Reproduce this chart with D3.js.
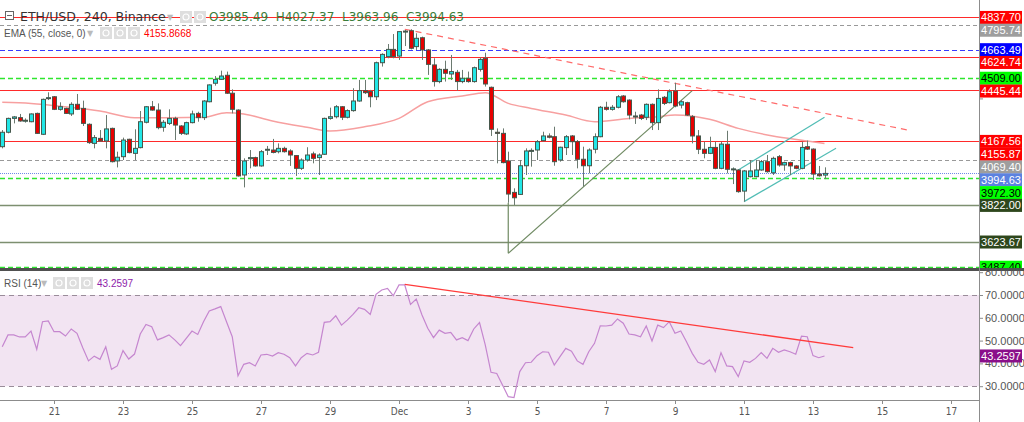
<!DOCTYPE html>
<html>
<head>
<meta charset="utf-8">
<script src="https://cdn.jsdelivr.net/npm/d3@7"></script>
<style>
  body { margin: 0; background: #fff; }
  svg { display: block; font-family: "DejaVu Sans", sans-serif; }
</style>
</head>
<body>
<svg id="chart" width="1024" height="422"></svg>
<script>
// ---- data (4h bars, ETH/USD Binance) ----
const firstBar = "2021-11-19T12:00:00Z";
const barHours = 4;

const opens = [4139,4217,4292,4296,4278,4274,4319,4206,4399,4409,4341,4346,4316,4368,4346,4260,4157,4184,4170,4238,
  4062,4085,4179,4103,4134,4271,4355,4337,4244,4265,4292,4251,4208,4269,4319,4296,4382,4482,4503,4525,
  4428,4337,3986,4074,4080,4035,4121,4121,4112,4130,4116,4091,4022,4067,4100,4080,4098,4292,4301,4355,
  4298,4334,4386,4442,4437,4409,4593,4626,4665,4629,4761,4766,4680,4728,4662,4581,4491,4557,4532,4541,
  4491,4509,4491,4557,4617,4460,4217,4211,4062,3892,3881,4036,4116,4121,4172,4197,4193,4067,4134,4197,
  4166,4071,4036,4125,4193,4352,4341,4352,4413,4391,4305,4310,4298,4368,4269,4406,4377,4440,4364,4377,
  4301,4197,4125,4103,4135,4022,4152,4017,4013,3899,3977,3977,4013,4058,3998,4085,4040,4053,4035,4022,
  4139,4126,3991,3985.49];
const highs = [4229,4296,4305,4316,4292,4319,4323,4399,4433,4413,4379,4350,4379,4424,4388,4265,4202,4229,4310,4242,
  4112,4188,4182,4233,4332,4359,4386,4373,4283,4341,4301,4256,4274,4334,4328,4391,4476,4521,4550,4545,
  4449,4341,4076,4121,4085,4121,4143,4181,4157,4139,4125,4094,4076,4136,4112,4103,4296,4350,4364,4359,
  4341,4455,4500,4500,4446,4599,4644,4694,4748,4761,4770,4774,4752,4734,4667,4617,4563,4604,4635,4554,
  4554,4545,4572,4622,4647,4464,4238,4238,4112,3914,4067,4130,4130,4175,4220,4211,4247,4139,4202,4202,
  4175,4139,4130,4211,4359,4382,4364,4418,4418,4395,4328,4316,4373,4373,4449,4413,4449,4485,4391,4382,
  4310,4229,4166,4193,4166,4166,4225,4027,4017,4013,4067,4067,4067,4094,4085,4094,4058,4058,4040,4166,
  4172,4130,4035,4027.37];
const lows = [4130,4211,4265,4274,4269,4271,4208,4202,4391,4337,4334,4316,4305,4337,4251,4154,4130,4166,4130,4054,
  4027,4067,4103,4067,4130,4265,4334,4233,4220,4256,4175,4202,4202,4265,4274,4283,4379,4469,4500,4424,
  4319,3977,3919,4022,4031,4031,4094,4103,4103,4107,4035,3981,4013,4058,4049,3986,4094,4285,4292,4283,
  4292,4328,4382,4424,4352,4391,4572,4617,4617,4608,4683,4665,4662,4608,4527,4464,4482,4491,4500,4442,
  4482,4485,4485,4545,4464,4197,4049,4049,3836,3824,3878,3986,4031,4067,4166,4184,4036,4058,4094,4094,
  4022,3923,3995,4103,4190,4334,4334,4346,4377,4287,4262,4283,4283,4229,4229,4364,4373,4352,4346,4305,
  4157,4099,4076,4099,4017,4017,3995,3937,3890,3842,3973,3973,4009,3998,3986,4031,4009,3986,4017,4017,
  4121,3959,3977,3963.96];
const closes = [4217,4292,4300,4278,4282,4316,4211,4395,4404,4341,4355,4319,4368,4341,4265,4161,4188,4170,4235,4058,
  4082,4175,4107,4130,4274,4355,4337,4242,4271,4292,4256,4211,4269,4316,4296,4386,4473,4503,4521,4428,
  4341,3981,4062,4080,4035,4112,4125,4108,4130,4112,4094,4022,4067,4094,4076,4094,4292,4301,4355,4298,
  4334,4386,4442,4431,4409,4593,4638,4665,4626,4761,4764,4671,4725,4662,4584,4491,4557,4536,4545,4491,
  4509,4491,4566,4611,4478,4233,4211,4053,3883,3863,4036,4116,4119,4166,4197,4190,4058,4136,4193,4166,
  4071,4036,4121,4193,4352,4341,4352,4409,4382,4310,4303,4292,4368,4269,4400,4373,4436,4359,4382,4310,
  4197,4125,4103,4135,4022,4153,4017,4019,3896,4008,4008,4013,4058,4004,4076,4040,4053,4035,4022,4135,
  4126,3991,3982,3994.63];

// EMA(55) readings: bar number (1-based) and value
const emaBars = [1,6,12,18,24,30,36,40,43,48,54,58,64,70,75,81,85,89,93,99,104,110,115,118,124,129,135,141,144];
const emaValues = [4379,4373,4355,4332,4296,4296,4298,4323,4316,4278,4244,4224,4247,4292,4382,4413,4431,4373,4346,4310,
  4274,4292,4301,4310,4287,4238,4197,4170,4155.87];

// RSI(14), one value per bar
const rsiValues = [47.3,52.5,52.5,51.6,51.6,54.2,46.2,58.3,58.6,53.9,53.9,52.0,55.1,53.2,46.9,41.1,43.2,41.8,47.3,37.4,
  38.9,45.6,41.9,44.1,52.9,57.1,56.1,50.3,51.3,52.5,50.3,47.8,51.0,54.2,52.7,58.3,63.0,63.9,64.9,58.3,
  51.7,34.6,39.6,40.3,38.9,43.7,44.0,43.2,44.7,44.0,42.5,38.9,42.5,44.4,43.7,44.9,58.0,58.3,60.9,56.8,
  59.0,61.5,64.4,63.7,61.5,70.3,72.2,72.9,69.7,74.4,74.4,65.9,68.2,61.2,55.4,51.3,54.6,53.2,53.6,50.3,
  51.3,50.0,55.1,57.9,48.1,36.1,35.6,30.5,25.4,25.0,36.4,40.3,40.5,43.4,45.1,44.9,39.3,43.0,46.6,45.4,
  41.1,39.6,45.1,48.8,56.5,56.4,56.8,59.5,57.6,52.9,52.5,51.7,56.4,49.8,56.8,55.7,58.3,53.2,54.2,49.5,
  44.4,40.5,39.6,41.5,36.4,44.7,38.9,38.6,34.2,41.1,40.5,42.2,44.7,42.2,46.6,44.9,45.9,45.1,44.0,52.0,
  51.7,43.4,42.5,43.2597];

// horizontal levels drawn on the price pane
const levelValues = [4837.70,4795.74,4663.49,4624.74,4509.00,4445.44,4167.56,4069.40,3994.63,3972.30,3822.00,3623.67,3487.40];
const levelKinds  = ["red","gray","blue","red","green","red","red","gray","last","green","olive","olive","green"];

// drawn trend lines
const trendKinds = ["redDash","olive","olive","teal","teal"];
const trendFrom = ["2021-12-01T04:00:00Z","2021-12-04T04:00:00Z","2021-12-04T04:00:00Z","2021-12-10T20:00:00Z","2021-12-11T00:00:00Z"];
const trendFromPrice = [4774,3562.7,3836,4013,3842];
const trendTo = ["2021-12-15T18:00:00Z","2021-12-09T12:00:00Z","2021-12-04T04:00:00Z","2021-12-13T08:00:00Z","2021-12-13T16:00:00Z"];
const trendToPrice = [4229,4442,3562.7,4298,4130];

const rsiTrendDates = ["2021-12-01T04:00:00Z","2021-12-14T04:00:00Z"];
const rsiTrendValues = [74.7,46.9];

const tickDates = ["2021-11-21","2021-11-23","2021-11-25","2021-11-27","2021-11-29","2021-12-01","2021-12-03",
  "2021-12-05","2021-12-07","2021-12-09","2021-12-11","2021-12-13","2021-12-15","2021-12-17"];
const tickLabels = ["21","23","25","27","29","Dec","3","5","7","9","11","13","15","17"];

const priceTicks = [3600,3800,4000,4200,4400,4600,4800];
const rsiTicks = [30,40,50,60,70,80];

// ---- layout ----
const plotRight = 979;
const priceTop = 0, priceBottom = 268;
const rsiTop = 271, rsiBottom = 400;
const dayPx = 34.5, dec1X = 399;

const svg = d3.select("#chart");
const dec1 = Date.UTC(2021, 11, 1);
const xScale = d3.scaleUtc()
  .domain([new Date(dec1 - dec1X / dayPx * 864e5), new Date(dec1 + (plotRight - dec1X) / dayPx * 864e5)])
  .range([0, plotRight]);
const yPrice = d3.scaleLinear().domain([3483.2, 4932.0]).range([priceBottom, priceTop]);
const yRsi = d3.scaleLinear().domain([30, 70]).range([386.2, 295]);

const barDate = i => d3.utcHour.offset(new Date(firstBar), i * barHours);
const bars = opens.map((o, i) => ({
  date: barDate(i), open: o, high: highs[i], low: lows[i], close: closes[i], rsi: rsiValues[i]
}));

const defs = svg.append("defs");
defs.append("clipPath").attr("id", "clipPrice")
  .append("rect").attr("x", 0).attr("y", priceTop).attr("width", plotRight).attr("height", priceBottom - priceTop);
defs.append("clipPath").attr("id", "clipPriceAxis")
  .append("rect").attr("x", 0).attr("y", priceTop).attr("width", 1024).attr("height", priceBottom - priceTop);
defs.append("clipPath").attr("id", "clipRsi")
  .append("rect").attr("x", 0).attr("y", rsiTop).attr("width", plotRight).attr("height", rsiBottom - rsiTop);

// ---- price pane ----
const pricePane = svg.append("g").attr("clip-path", "url(#clipPrice)");

const levelStyle = {
  red:   {stroke: "#ff2a2a", dash: null,  width: 1,   bg: "#ff0000", fg: "#fff"},
  gray:  {stroke: "#999",    dash: "4,3", width: 1,   bg: "#9e9e9e", fg: "#fff"},
  blue:  {stroke: "#3a3aff", dash: "5,3", width: 1,   bg: "#0000ff", fg: "#fff"},
  green: {stroke: "#2ee62e", dash: "5,3", width: 1.5, bg: "#00ff00", fg: "#000"},
  last:  {stroke: "#7088e8", dash: "1,1", width: 1,   bg: "#5b82e0", fg: "#fff"},
  olive: {stroke: "#7d8f70", dash: null,  width: 1.5, bg: "#2e471c", fg: "#fff"},
  ema:   {bg: "#ff0000", fg: "#fff"}
};

pricePane.selectAll(".level")
  .data(levelValues.map((v, i) => ({value: v, kind: levelKinds[i]})))
  .join("line")
    .attr("class", "level")
    .attr("x1", 0).attr("x2", plotRight)
    .attr("y1", d => Math.round(yPrice(d.value)) + 0.5)
    .attr("y2", d => Math.round(yPrice(d.value)) + 0.5)
    .attr("stroke", d => levelStyle[d.kind].stroke)
    .attr("stroke-width", d => levelStyle[d.kind].width)
    .attr("stroke-dasharray", d => levelStyle[d.kind].dash);

// EMA line
const emaLine = d3.line()
  .x(d => xScale(barDate(d.bar - 1)))
  .y(d => yPrice(d.value))
  .curve(d3.curveMonotoneX);
pricePane.append("path")
  .attr("d", emaLine(emaBars.map((b, i) => ({bar: b, value: emaValues[i]}))))
  .attr("fill", "none")
  .attr("stroke", "#f7a0a0")
  .attr("stroke-width", 1.5);

// trend lines
const trendStyle = {
  redDash: {stroke: "#ff6b6b", dash: "6,5"},
  olive:   {stroke: "#6f8a62", dash: null},
  teal:    {stroke: "#52bdb5", dash: null}
};
pricePane.selectAll(".trend")
  .data(trendKinds.map((k, i) => ({kind: k, d0: new Date(trendFrom[i]), p0: trendFromPrice[i], d1: new Date(trendTo[i]), p1: trendToPrice[i]})))
  .join("line")
    .attr("class", "trend")
    .attr("x1", d => xScale(d.d0)).attr("y1", d => yPrice(d.p0))
    .attr("x2", d => xScale(d.d1)).attr("y2", d => yPrice(d.p1))
    .attr("stroke", d => trendStyle[d.kind].stroke)
    .attr("stroke-width", 1.2)
    .attr("stroke-dasharray", d => trendStyle[d.kind].dash);

// candles
const candle = pricePane.append("g").selectAll(".candle")
  .data(bars)
  .join("g")
    .attr("class", "candle")
    .attr("transform", d => `translate(${Math.round(xScale(d.date))}, 0)`);
candle.append("line")
  .attr("x1", 0.5).attr("x2", 0.5)
  .attr("y1", d => yPrice(d.high))
  .attr("y2", d => yPrice(d.low))
  .attr("stroke", "#6b7a70");
candle.append("rect")
  .attr("x", -1.5)
  .attr("width", 4)
  .attr("y", d => yPrice(Math.max(d.open, d.close)))
  .attr("height", d => Math.max(1, Math.abs(yPrice(d.open) - yPrice(d.close))))
  .attr("fill", d => d.close >= d.open ? "#22e6e6" : "#e60000")
  .attr("stroke", "#46574c")
  .attr("stroke-width", 1);

// ---- RSI pane ----
const rsiPane = svg.append("g").attr("clip-path", "url(#clipRsi)");
rsiPane.append("rect")
  .attr("x", 0).attr("width", plotRight)
  .attr("y", yRsi(70)).attr("height", yRsi(30) - yRsi(70))
  .attr("fill", "#f2e4f2");
rsiPane.selectAll(".band")
  .data([70, 30])
  .join("line")
    .attr("x1", 0).attr("x2", plotRight)
    .attr("y1", d => Math.round(yRsi(d)) + 0.5).attr("y2", d => Math.round(yRsi(d)) + 0.5)
    .attr("stroke", "#9a8c9a")
    .attr("stroke-dasharray", "5,4");
rsiPane.append("path")
  .attr("d", d3.line().x(d => xScale(d.date)).y(d => yRsi(d.rsi))(bars))
  .attr("fill", "none")
  .attr("stroke", "#c586cf")
  .attr("stroke-width", 1.2);
rsiPane.append("line")
  .attr("x1", xScale(new Date(rsiTrendDates[0]))).attr("y1", yRsi(rsiTrendValues[0]))
  .attr("x2", xScale(new Date(rsiTrendDates[1]))).attr("y2", yRsi(rsiTrendValues[1]))
  .attr("stroke", "#ff3b3b")
  .attr("stroke-width", 1.3);

// separator between panes
svg.append("line")
  .attr("x1", 0).attr("x2", 1024).attr("y1", 269.5).attr("y2", 269.5)
  .attr("stroke", "#505050").attr("stroke-width", 3);

// ---- price scale labels (stacked so they don't overlap) ----
const priceLabels = levelValues.map((v, i) => ({value: v, kind: levelKinds[i]}))
  .concat([{value: emaValues[emaValues.length - 1], kind: "ema"}])
  .map(d => ({...d, y: yPrice(d.value)}))
  .sort((a, b) => a.y - b.y);
priceLabels.forEach((d, i) => { if (i > 0) d.y = Math.max(d.y, priceLabels[i - 1].y + 12.8); });

const lastRsi = rsiValues[rsiValues.length - 1];

// ---- axes ----
svg.append("line")
  .attr("x1", plotRight + 0.5).attr("x2", plotRight + 0.5).attr("y1", 0).attr("y2", 422)
  .attr("stroke", "#8c8c8c");

const priceAxis = svg.append("g")
  .attr("class", "axis-price")
  .attr("transform", `translate(${plotRight}, 0)`)
  .attr("clip-path", "url(#clipPriceAxis)")
  .call(d3.axisRight(yPrice).tickValues(priceTicks).tickFormat(d3.format(".2f")).tickSize(4));
const rsiAxis = svg.append("g")
  .attr("class", "axis-rsi")
  .attr("transform", `translate(${plotRight}, 0)`)
  .call(d3.axisRight(yRsi).tickValues(rsiTicks).tickFormat(d3.format(".4f")).tickSize(4));
[priceAxis, rsiAxis].forEach(a => {
  a.select(".domain").remove();
  a.selectAll("line").attr("stroke", "#8c8c8c");
  a.selectAll("text").attr("fill", "#555").attr("font-size", 11)
    .attr("font-family", "Liberation Sans, Arial, sans-serif").attr("x", 6);
});
// tick texts that sit fully under a coloured label are hidden, as on the original
priceAxis.selectAll(".tick text")
  .style("display", d => priceLabels.some(l => Math.abs(l.y - yPrice(d)) < 8) ? "none" : null);
rsiAxis.selectAll(".tick text")
  .style("display", d => Math.abs(yRsi(lastRsi) - yRsi(d)) < 6 ? "none" : null);

const xAxis = svg.append("g")
  .attr("class", "axis-x")
  .attr("transform", `translate(0, ${rsiBottom})`)
  .call(d3.axisBottom(xScale).tickValues(tickDates.map(d => new Date(d + "T00:00:00Z")))
    .tickFormat((d, i) => tickLabels[i]).tickSize(4).tickSizeOuter(0));
xAxis.select(".domain").attr("d", `M0,0.5H${plotRight}`).attr("stroke", "#8c8c8c");
xAxis.selectAll("line").attr("stroke", "#8c8c8c");
xAxis.selectAll("text").attr("fill", "#555").attr("font-size", 10).attr("y", 8)
  .attr("font-family", "Liberation Sans Narrow, DejaVu Sans Condensed, sans-serif");

const labelG = svg.append("g").attr("clip-path", "url(#clipPriceAxis)")
  .selectAll(".price-label")
  .data(priceLabels)
  .join("g")
    .attr("class", "price-label")
    .attr("transform", d => `translate(${plotRight + 1}, ${d.y})`);
labelG.append("rect")
  .attr("x", 0).attr("y", -6.5).attr("width", 42).attr("height", 13)
  .attr("fill", d => levelStyle[d.kind].bg);
labelG.append("text")
  .attr("x", 21).attr("y", 4)
  .attr("text-anchor", "middle")
  .attr("font-size", 11)
  .attr("font-family", "Liberation Sans, Arial, sans-serif")
  .attr("fill", d => levelStyle[d.kind].fg)
  .text(d => d3.format(".2f")(d.value));

const rsiLabel = svg.append("g").attr("transform", `translate(${plotRight + 1}, ${yRsi(lastRsi)})`);
rsiLabel.append("rect").attr("x", 0).attr("y", -6.5).attr("width", 42).attr("height", 13).attr("fill", "#8a0e8a");
rsiLabel.append("text").attr("x", 21).attr("y", 4).attr("text-anchor", "middle")
  .attr("font-size", 11).attr("font-family", "Liberation Sans, Arial, sans-serif")
  .attr("fill", "#fff").text(d3.format(".4f")(lastRsi));

// ---- legends ----
const last = bars[bars.length - 1];
const icons = (g, x0, n) => {
  for (let k = 0; k < n; k++) {
    g.append("rect").attr("x", x0 + k * 14).attr("y", -10).attr("width", 12).attr("height", 12)
      .attr("fill", "#dedede");
    g.append("circle").attr("cx", x0 + k * 14 + 6).attr("cy", -4).attr("r", 3)
      .attr("fill", "none").attr("stroke", "#fff").attr("stroke-width", 1.2);
  }
};

const title = svg.append("g").attr("transform", "translate(0, 21)");
title.append("rect").attr("x", 5.5).attr("y", -9.5).attr("width", 8).attr("height", 8)
  .attr("fill", "#fff").attr("stroke", "#666");
title.append("line").attr("x1", 7).attr("x2", 12).attr("y1", -5.5).attr("y2", -5.5).attr("stroke", "#666");
title.append("text").attr("x", 20).attr("font-size", 12.5).attr("fill", "#333")
  .text("ETH/USD, 240, Binance");
title.append("text").attr("x", 167).attr("y", -1).attr("font-size", 8).attr("fill", "#bbb").text("▼");
icons(title, 180, 2);
title.append("text").attr("x", 209).attr("font-size", 12).attr("fill", "#3a7d3a")
  .attr("xml:space", "preserve")
  .text(`O${d3.format(".2f")(last.open)}  H${d3.format(".2f")(last.high)}  L${d3.format(".2f")(last.low)}  C${d3.format(".2f")(last.close)}`);

const emaLegend = svg.append("g").attr("transform", "translate(0, 37)");
emaLegend.append("text").attr("x", 4).attr("font-size", 10).attr("fill", "#555")
  .attr("font-family", "Liberation Sans, Arial, sans-serif").text("EMA (55, close, 0)");
emaLegend.append("text").attr("x", 87).attr("y", -1).attr("font-size", 8).attr("fill", "#bbb").text("▼");
icons(emaLegend, 100, 3);
emaLegend.append("text").attr("x", 144).attr("font-size", 10).attr("fill", "#ff0000")
  .attr("font-family", "Liberation Sans, Arial, sans-serif").text("4155.8668");

const rsiLegend = svg.append("g").attr("transform", "translate(0, 287)");
rsiLegend.append("text").attr("x", 4).attr("font-size", 10).attr("fill", "#555")
  .attr("font-family", "Liberation Sans, Arial, sans-serif").text("RSI (14)");
rsiLegend.append("text").attr("x", 41).attr("y", -1).attr("font-size", 8).attr("fill", "#bbb").text("▼");
icons(rsiLegend, 53, 3);
rsiLegend.append("text").attr("x", 97).attr("font-size", 10).attr("fill", "#8e24aa")
  .attr("font-family", "Liberation Sans, Arial, sans-serif").text(d3.format(".4f")(lastRsi));
</script>
</body>
</html>
